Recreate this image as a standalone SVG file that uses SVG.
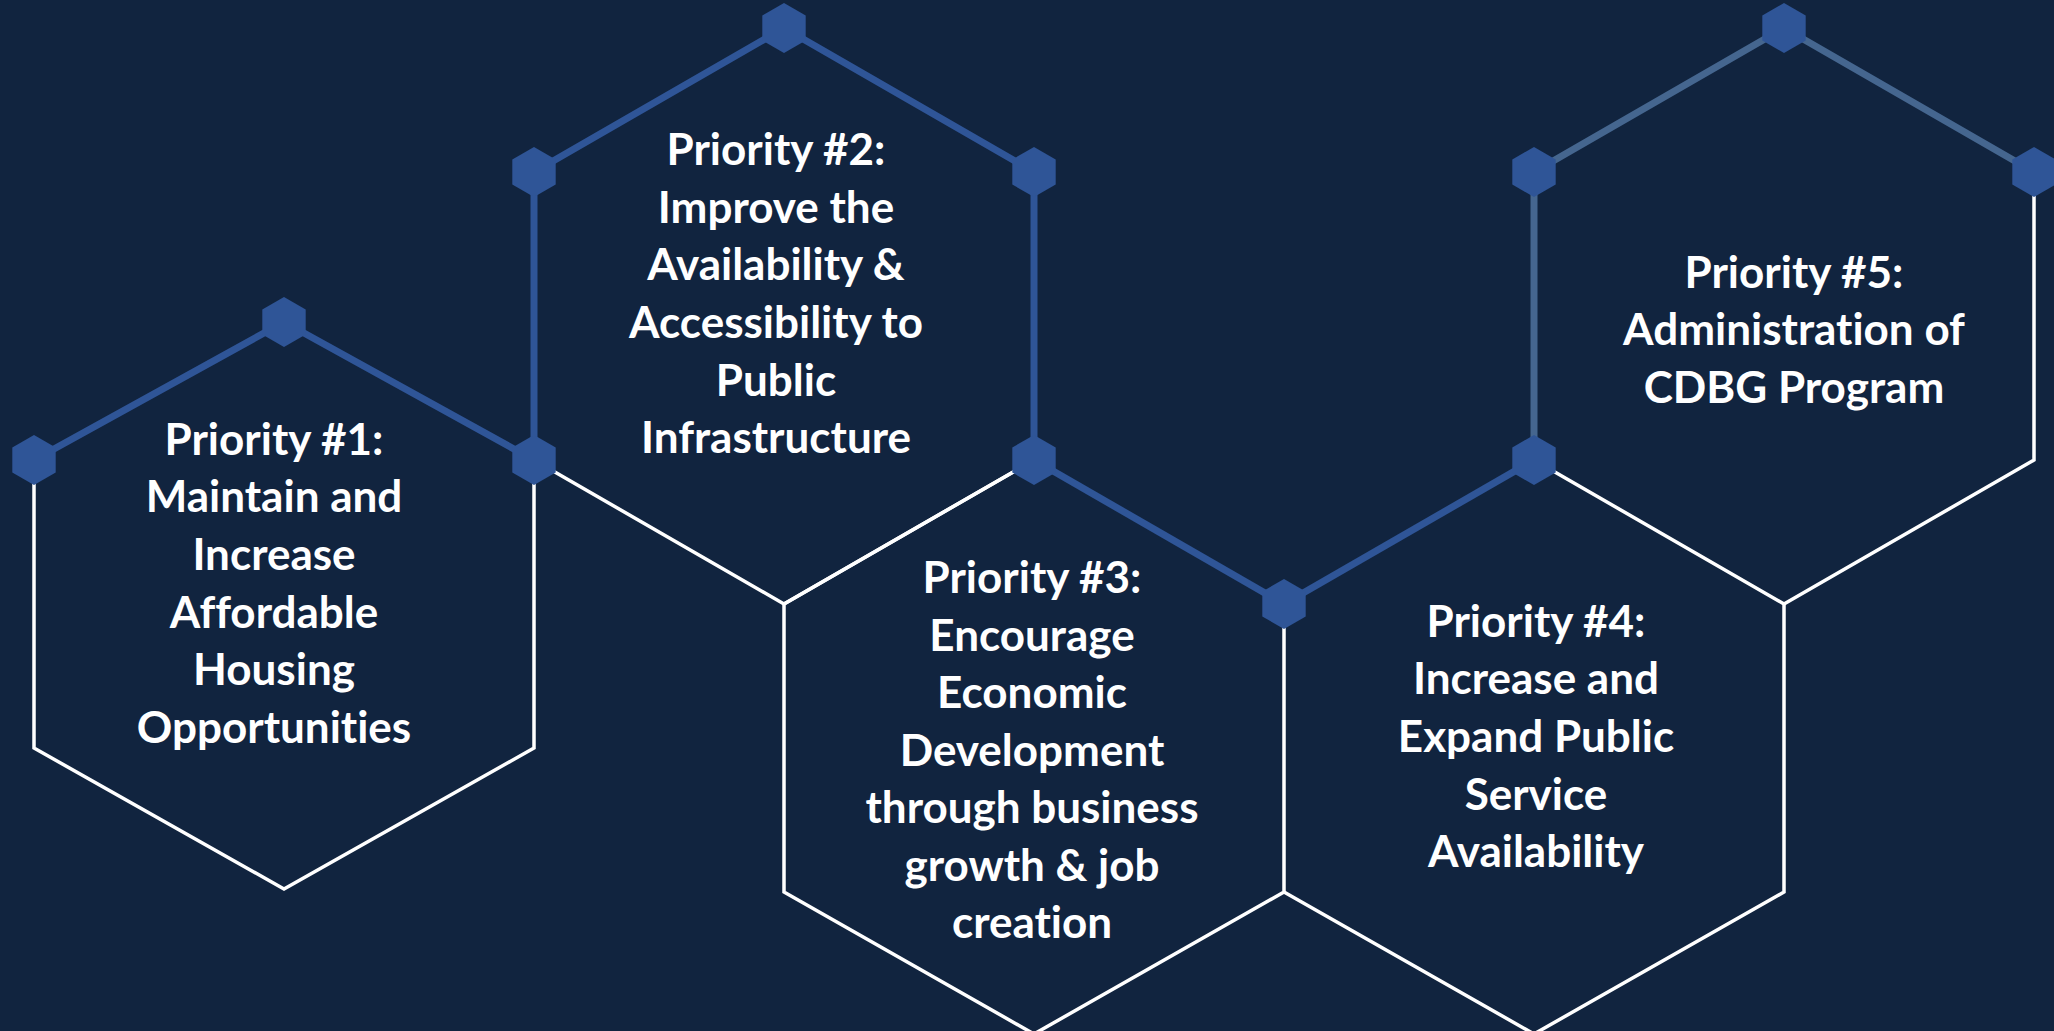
<svg xmlns="http://www.w3.org/2000/svg" xmlns:xlink="http://www.w3.org/1999/xlink" width="2054" height="1031" viewBox="0 0 2054 1031">
<style>
.w{fill:none;stroke:#FFFFFF;stroke-width:3.5;stroke-linejoin:miter}
.b{fill:none;stroke:#2F5597;stroke-width:7;stroke-linejoin:round}
.s{fill:none;stroke:#45668F;stroke-width:7;stroke-linejoin:round}
.m{fill:#2F5597}
.t{font-family:Lato,"Noto Sans","Liberation Sans",sans-serif;font-size:44px;font-weight:bold;fill:#FFFFFF;text-anchor:middle;font-variant-ligatures:none;font-feature-settings:"liga" 0}
</style>
<defs>
<polygon id="mk" points="0,-25 21.7,-12.5 21.7,12.5 0,25 -21.7,12.5 -21.7,-12.5"/>
</defs>
<rect width="2054" height="1031" fill="#11243F"/>
<g id="connectors">
<polyline class="w" points="534,460 534,748 284,889 34,748 34,460"/>
<polyline class="w" points="1034,460 784,604 534,460"/>
<polyline class="w" points="1284,604 1284,892 1034,1034 784,892 784,604 1034,460"/>
<polyline class="w" points="1534,460 1784,604 1784,892 1534,1034 1284,892"/>
<polyline class="w" points="2034,172 2034,460 1784,604"/>
<polyline class="b" points="34,460 284,322 534,460"/>
<polyline class="b" points="534,460 534,172 784,28 1034,172 1034,460"/>
<polyline class="b" points="1034,460 1284,604"/>
<polyline class="b" points="1284,604 1534,460"/>
<polyline class="s" points="1534,460 1534,172 1784,28 2034,172"/>
</g>
<g id="markers">
<use xlink:href="#mk" class="m" x="284" y="322"/>
<use xlink:href="#mk" class="m" x="34" y="460"/>
<use xlink:href="#mk" class="m" x="534" y="460"/>
<use xlink:href="#mk" class="m" x="534" y="172"/>
<use xlink:href="#mk" class="m" x="784" y="28"/>
<use xlink:href="#mk" class="m" x="1034" y="172"/>
<use xlink:href="#mk" class="m" x="1034" y="460"/>
<use xlink:href="#mk" class="m" x="1284" y="604"/>
<use xlink:href="#mk" class="m" x="1534" y="460"/>
<use xlink:href="#mk" class="m" x="1534" y="172"/>
<use xlink:href="#mk" class="m" x="1784" y="28"/>
<use xlink:href="#mk" class="m" x="2034" y="172"/>
</g>
<g id="priority1">
<text class="t" x="274" y="455">Priority #1:</text>
<text class="t" x="274" y="512">Maintain and</text>
<text class="t" x="274" y="570">Increase</text>
<text class="t" x="274" y="628">Affordable</text>
<text class="t" x="274" y="685">Housing</text>
<text class="t" x="274" y="743">Opportunities</text>
</g>
<g id="priority2">
<text class="t" x="776" y="165">Priority #2:</text>
<text class="t" x="776" y="223">Improve the</text>
<text class="t" x="776" y="280">Availability &amp;</text>
<text class="t" x="776" y="338">Accessibility to</text>
<text class="t" x="776" y="396">Public</text>
<text class="t" x="776" y="453">Infrastructure</text>
</g>
<g id="priority3">
<text class="t" x="1032" y="593">Priority #3:</text>
<text class="t" x="1032" y="651">Encourage</text>
<text class="t" x="1032" y="708">Economic</text>
<text class="t" x="1032" y="766">Development</text>
<text class="t" x="1032" y="823">through business</text>
<text class="t" x="1032" y="881">growth &amp; job</text>
<text class="t" x="1032" y="938">creation</text>
</g>
<g id="priority4">
<text class="t" x="1536" y="637">Priority #4:</text>
<text class="t" x="1536" y="694">Increase and</text>
<text class="t" x="1536" y="752">Expand Public</text>
<text class="t" x="1536" y="810">Service</text>
<text class="t" x="1536" y="867">Availability</text>
</g>
<g id="priority5">
<text class="t" x="1794" y="288">Priority #5:</text>
<text class="t" x="1794" y="345">Administration of</text>
<text class="t" x="1794" y="403">CDBG Program</text>
</g>
</svg>
